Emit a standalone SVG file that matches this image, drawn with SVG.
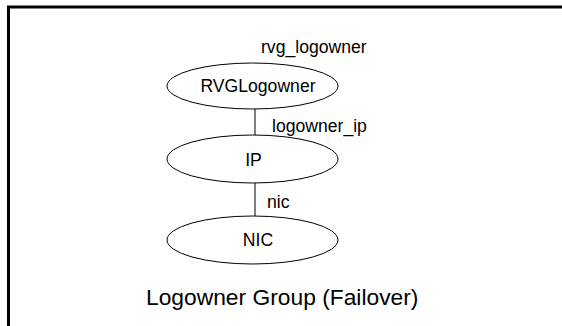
<svg xmlns="http://www.w3.org/2000/svg" width="562" height="326" viewBox="0 0 562 326">
<style>
.node ellipse{fill:#fff;stroke:#000;stroke-width:1}
.lbl{font-family:"Liberation Sans",Arial,sans-serif;font-size:17.6px;fill:#000;text-anchor:middle}
.elbl{font-family:"Liberation Sans",Arial,sans-serif;font-size:17.6px;fill:#000}
.title{font-family:"Liberation Sans",Arial,sans-serif;font-size:22.8px;fill:#000}
.edge{stroke:#000;stroke-width:1;fill:none}
</style>
<rect width="562" height="326" fill="#fff"/>
<path d="M8.5 326 V7 H562" fill="none" stroke="#000" stroke-width="3"/>
<g id="connectors">
<line class="edge" x1="255" y1="109" x2="255" y2="135"/>
<line class="edge" x1="255" y1="183" x2="255" y2="216"/>
<text class="elbl" x="261" y="53">rvg_logowner</text>
<text class="elbl" x="272" y="132">logowner_ip</text>
<text class="elbl" x="267" y="208">nic</text>
</g>
<g id="RVGLogowner" class="node">
<ellipse cx="252.5" cy="86" rx="85.5" ry="23"/>
<text class="lbl" x="258" y="92">RVGLogowner</text>
</g>
<g id="IP" class="node">
<ellipse cx="252.5" cy="159" rx="85.5" ry="24"/>
<text class="lbl" x="253.5" y="165.5">IP</text>
</g>
<g id="NIC" class="node">
<ellipse cx="252.5" cy="240" rx="85.5" ry="24"/>
<text class="lbl" x="258" y="246">NIC</text>
</g>
<text class="title" x="146" y="305">Logowner Group (Failover)</text>
</svg>
